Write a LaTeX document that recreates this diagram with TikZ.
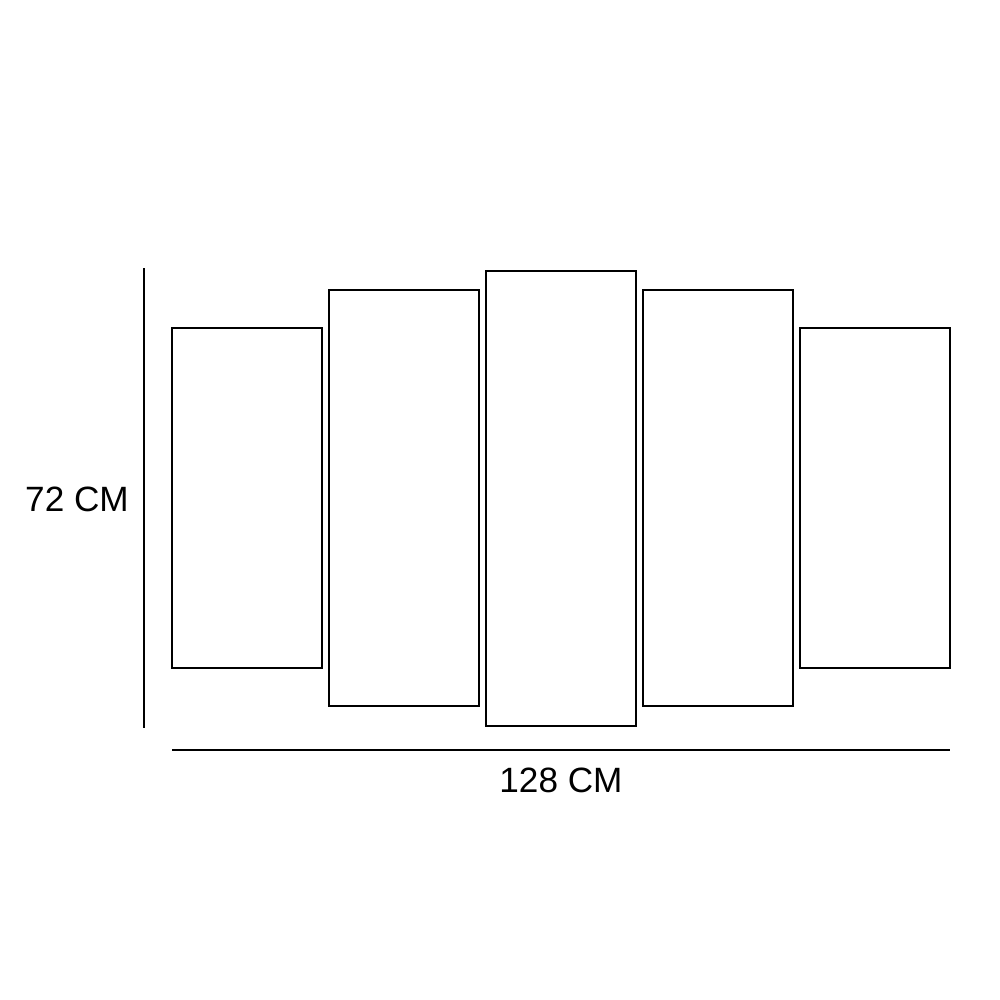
\documentclass[tikz,border=0pt]{standalone}
\usepackage{fontspec}
\setmainfont{Liberation Sans}
\usepackage{tikz}

\tikzset{
	panel/.style={draw,line width=0.7pt,inner sep=0pt,minimum width=1.5cm},
	dimtext/.style={font=\fontsize{10}{12}\selectfont,inner sep=0pt}
}

\begin{document}
\begin{tikzpicture}[x=0.01cm,y=-0.01cm]
				\useasboundingbox (0,0) rectangle (1000,1000);
				\coordinate (v1) at (144,268);%top of height line
				\coordinate (v2) at (144,728);%bottom of height line
				\coordinate (h1) at (172,750);%left of width line
				\coordinate (h2) at (950,750);%right of width line
				
				\node[panel,minimum height=3.4cm] (p1) at (247,498) {};
				\node[panel,minimum height=4.16cm] (p2) at (404,498) {};
				\node[panel,minimum height=4.55cm] (p3) at (561,498.5) {};
				\node[panel,minimum height=4.16cm] (p4) at (718,498) {};
				\node[panel,minimum height=3.4cm] (p5) at (875,498) {};
				
				\draw[line width=0.7pt] (v1) -- (v2);
				\draw[line width=0.7pt] (h1) -- (h2);
				
				\node[dimtext] (hlabel) at (77,499) {72 CM};
				\node[dimtext] (wlabel) at (561,780) {128 CM};
			\end{tikzpicture}
\end{document}
